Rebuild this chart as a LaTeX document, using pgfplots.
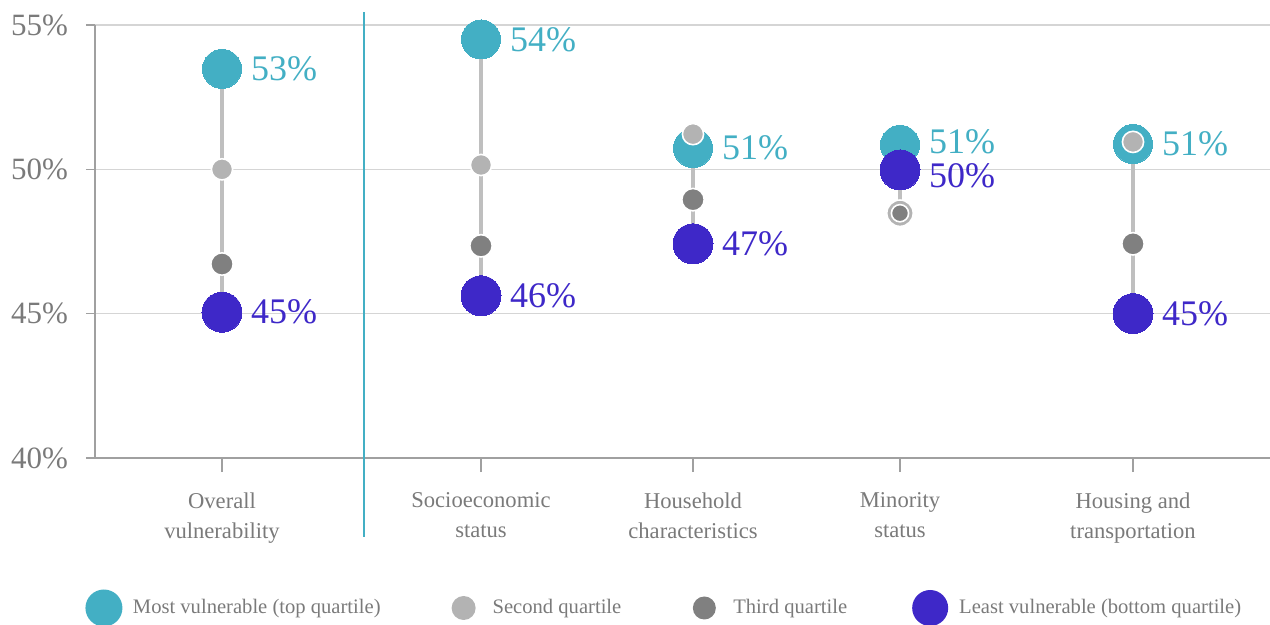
\documentclass[border=0pt]{standalone}
\usepackage{fontspec}
\setmainfont{Liberation Serif}
\usepackage{pgfplots}
\pgfplotsset{compat=1.18}
\usepackage{pgfplotstable}

\definecolor{tealc}{HTML}{43AFC4}
\definecolor{bluec}{HTML}{3E28C8}
\definecolor{secc}{HTML}{B3B3B3}
\definecolor{thirdc}{HTML}{808080}
\definecolor{stemc}{HTML}{BFBFBF}
\definecolor{axisc}{HTML}{A0A0A0}
\definecolor{gridc}{HTML}{D5D5D5}
\definecolor{txtc}{HTML}{7A7A7A}

% x = horizontal position of each category
\pgfplotstableread{
x    y     lab dy
222  53.48 53  0
481  54.50 54  0
693  50.74 51  0
900  50.85 51  1.5
1133 50.88 51  0
}\toptab
\pgfplotstableread{
x    y     lab dy
222  45.05 45  0
481  45.62 46  0
693  47.42 47  0
900  49.98 50  -3
1133 45.00 45  0
}\bottab
\pgfplotstableread{
x    y
222  50.00
481  50.15
693  51.22
1133 50.95
}\sectab
\pgfplotstableread{
x    y
222  46.72
481  47.35
693  48.95
1133 47.42
}\thitab

\begin{document}
\begin{tikzpicture}
\begin{axis}[
  scale only axis, width=587.5pt, height=216.5pt,
  xmin=95, xmax=1270, ymin=40, ymax=55,
  axis lines*=left,
  axis line style={axisc, line width=0.8pt},
  clip=false,
  ytick={40,45,50,55},
  yticklabels={40\%,45\%,50\%,55\%},
  ymajorgrids, grid style={gridc, line width=0.6pt},
  xtick={222,481,693,900,1133},
  xticklabels={Overall\\vulnerability, Socioeconomic\\status, Household\\characteristics, Minority\\status, Housing and\\transportation},
  tick align=outside,
  tick style={axisc, line width=0.8pt},
  xtick style={/pgfplots/major tick length=7pt},
  ytick style={/pgfplots/major tick length=4.5pt},
  yticklabel style={font=\fontsize{15.5}{17}\selectfont, text=txtc, inner sep=0pt, xshift=-9pt},
  xticklabel style={font=\fontsize{11.3}{15}\selectfont, text=txtc, align=center, inner sep=0pt, yshift=-13pt},
  legend columns=4,
  legend style={draw=none, fill=none, at={(axis description cs:-0.0140,-0.3464)}, anchor=west,
    font=\fontsize{10.3}{12}\selectfont, text=txtc,
    /tikz/every odd column/.append style={column sep=3pt},
    /tikz/every even column/.append style={column sep=30pt}},
]
% stems
\addplot[stemc, line width=2.3pt, forget plot, unbounded coords=jump] coordinates {
 (222,53.48) (222,45.05) (222,nan)
 (481,54.50) (481,45.62) (481,nan)
 (693,51.22) (693,47.42) (693,nan)
 (900,50.85) (900,48.48) (900,nan)
 (1133,50.95) (1133,45.00)
};
% most vulnerable
\addplot[tealc, only marks, mark=*, mark size=9.75pt, mark options={fill=tealc, draw=tealc, line width=0pt}, forget plot,
  point meta=explicit symbolic,
  visualization depends on={\thisrow{dy} \as \ldy},
  nodes near coords={\pgfplotspointmeta\%},
  nodes near coords style={anchor=west, inner sep=0pt, xshift=14.5pt, yshift=\ldy pt, text=tealc, font=\fontsize{18}{20}\selectfont}]
  table[x=x, y=y, meta=lab] {\toptab};
% least vulnerable
\addplot[bluec, only marks, mark=*, mark size=10pt, mark options={fill=bluec, draw=bluec, line width=0pt}, forget plot,
  point meta=explicit symbolic,
  visualization depends on={\thisrow{dy} \as \ldy},
  nodes near coords={\pgfplotspointmeta\%},
  nodes near coords style={anchor=west, inner sep=0pt, xshift=14.5pt, yshift=\ldy pt, text=bluec, font=\fontsize{18}{20}\selectfont}]
  table[x=x, y=y, meta=lab] {\bottab};
% second quartile
\addplot[only marks, mark=*, mark size=5.3pt, mark options={fill=secc, draw=white, line width=0.8pt}, forget plot]
  table[x=x, y=y] {\sectab};
\addplot[only marks, mark=*, mark size=6.6pt, mark options={fill=secc, draw=white, line width=0.8pt}, forget plot]
  coordinates {(900,48.48)};
% third quartile
\addplot[only marks, mark=*, mark size=5.6pt, mark options={fill=thirdc, draw=white, line width=0.8pt}, forget plot]
  table[x=x, y=y] {\thitab};
\addplot[only marks, mark=*, mark size=4.3pt, mark options={fill=thirdc, draw=white, line width=0.8pt}, forget plot]
  coordinates {(900,48.48)};

% legend
\addlegendimage{legend image code/.code={\path[draw=none,fill=none] (-9.5pt,-9.5pt) rectangle (9.5pt,9.5pt); \fill[tealc,draw=none] (0pt,0pt) circle (9.25pt);}}
\addlegendentry{Most vulnerable (top quartile)}
\addlegendimage{legend image code/.code={\path[draw=none,fill=none] (-9.5pt,-9.5pt) rectangle (9.5pt,9.5pt); \fill[secc,draw=none] (0pt,0pt) circle (6pt);}}
\addlegendentry{Second quartile}
\addlegendimage{legend image code/.code={\path[draw=none,fill=none] (-9.5pt,-9.5pt) rectangle (9.5pt,9.5pt); \fill[thirdc,draw=none] (0pt,0pt) circle (5.75pt);}}
\addlegendentry{Third quartile}
\addlegendimage{legend image code/.code={\path[draw=none,fill=none] (-9.5pt,-9.5pt) rectangle (9.5pt,9.5pt); \fill[bluec,draw=none] (0pt,0pt) circle (9pt);}}
\addlegendentry{Least vulnerable (bottom quartile)}

% separator between overall and components
\draw[tealc, line width=1pt] (axis cs:364,55.45) -- (axis cs:364,37.27);
\coordinate (bbA) at (axis cs:0,55.866);
\coordinate (bbB) at (axis cs:1270,34.22);
\end{axis}
\pgfresetboundingbox
\path (bbA) rectangle (bbB);
\end{tikzpicture}
\end{document}
